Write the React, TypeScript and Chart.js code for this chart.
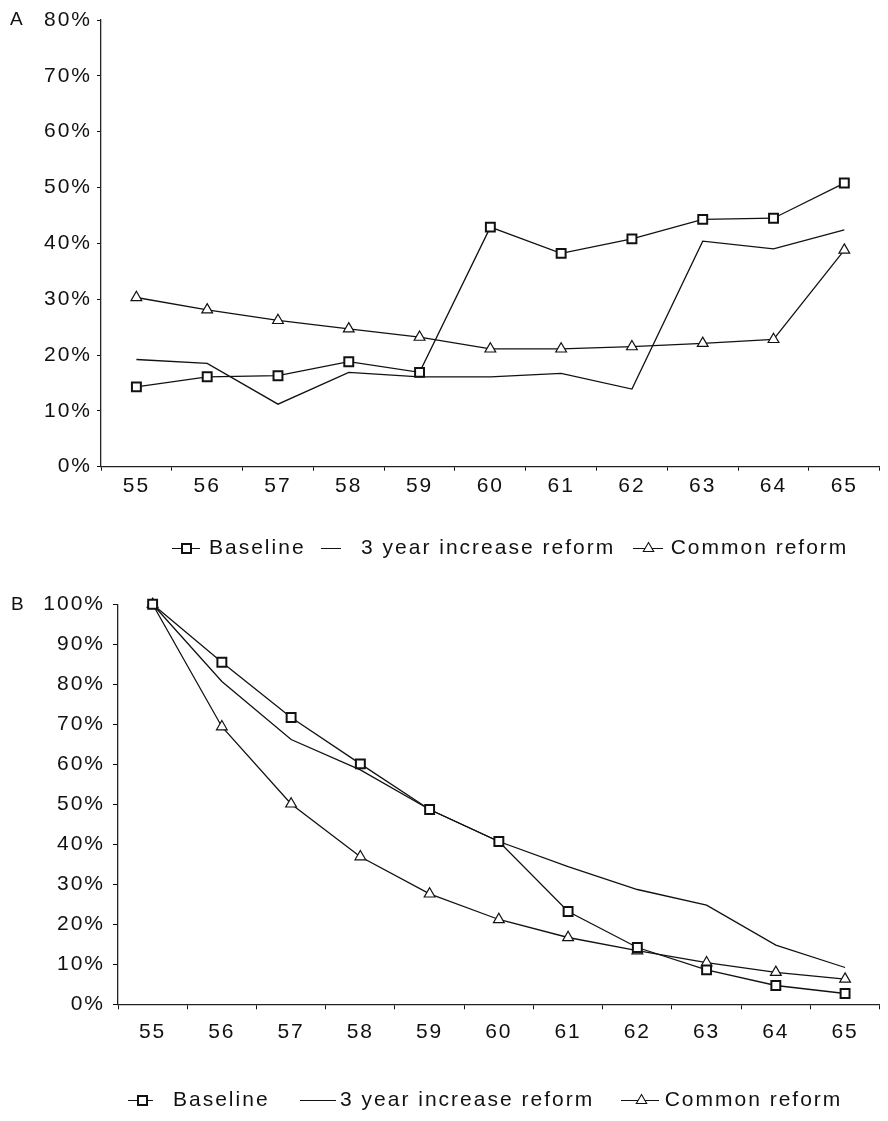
import React, { useEffect, useRef } from 'react';
import { Chart, registerables } from 'chart.js';

Chart.register(...registerables);

// ---------- data ----------
const ages = ['55', '56', '57', '58', '59', '60', '61', '62', '63', '64', '65'];
const seriesNames = ['Baseline', '3 year increase reform', 'Common reform'];

const baselineA = [14.3, 16.1, 16.3, 18.8, 16.9, 42.9, 38.2, 40.8, 44.3, 44.5, 50.8];
const threeYearA = [19.2, 18.5, 11.2, 16.9, 16.1, 16.1, 16.7, 13.9, 40.4, 39.0, 42.4];
const commonA = [30.3, 28.1, 26.2, 24.7, 23.2, 21.1, 21.1, 21.5, 22.1, 22.8, 38.8];

const baselineB = [100, 85.5, 71.7, 60.1, 48.7, 40.7, 23.2, 14.2, 8.6, 4.7, 2.7];
const threeYearB = [100, 80.7, 66.2, 58.6, 48.7, 40.7, 34.4, 28.7, 24.8, 14.8, 9.2];
const commonB = [100, 69.4, 50.1, 36.9, 27.6, 21.2, 16.7, 13.4, 10.4, 8.0, 6.3];

const yTicksA = { max: 80, step: 10 };
const yTicksB = { max: 100, step: 10 };

// ---------- style ----------
const FONT = "'Liberation Sans', Arial, Helvetica, sans-serif";
const FS = 21;
const INK = '#111';
const LS = '2px';

type Marker = { kind: 'square' | 'none' | 'triangle'; x0: number; x1: number; cx: number };

function legendImage(w: number, h: number, m: Marker): HTMLCanvasElement {
  const c = document.createElement('canvas');
  c.width = w;
  c.height = h;
  const g = c.getContext('2d')!;
  const cy = Math.floor(h / 2) + 0.5;
  g.strokeStyle = INK;
  g.lineWidth = 1;
  g.beginPath();
  g.moveTo(m.x0, cy);
  g.lineTo(m.x1, cy);
  g.stroke();
  if (m.kind === 'square') {
    const cx = Math.floor(m.cx);
    g.fillStyle = '#fff';
    g.lineWidth = 2;
    g.fillRect(cx - 4, cy - 4.5, 9, 9);
    g.strokeRect(cx - 4, cy - 4.5, 9, 9);
  } else if (m.kind === 'triangle') {
    const r = 6;
    g.fillStyle = '#fff';
    g.lineWidth = 1.1;
    g.beginPath();
    g.moveTo(m.cx, cy - r);
    g.lineTo(m.cx + r * 0.866, cy + r * 0.5);
    g.lineTo(m.cx - r * 0.866, cy + r * 0.5);
    g.closePath();
    g.fill();
    g.stroke();
  }
  return c;
}

type PanelProps = {
  top: number;
  height: number;
  letter: string;
  letterX: number;
  letterY: number;
  values: number[][];
  yMax: number;
  yStep: number;
  padTop: number;
  padRight: number;
  padBottom: number;
  yAxisWidth: number;
  xAxisHeight: number;
  yTickLen: number;
  yTickPad: number;
  xTickLen: number;
  xTickPad: number;
  legendPad: number;
  legendStart: number;
  imgW: number;
  boxW: number;
  markers: Marker[];
};

function Panel(p: PanelProps) {
  const ref = useRef<HTMLCanvasElement | null>(null);

  useEffect(() => {
    const canvas = ref.current!;
    const imgs = p.markers.map((m) => legendImage(p.imgW, 17, m));

    const styler = {
      id: 'styler',
      beforeUpdate(chart: any) {
        chart.ctx.letterSpacing = LS;
      },
      afterLayout(chart: any) {
        const lg = chart.legend;
        if (lg) {
          lg.left = p.legendStart - p.legendPad;
          lg.right = 5000;
        }
      },
      beforeDraw(chart: any) {
        chart.ctx.letterSpacing = LS;
        chart.ctx.imageSmoothingEnabled = false;
      },
      afterDraw(chart: any) {
        const ctx = chart.ctx;
        ctx.save();
        ctx.letterSpacing = '0px';
        ctx.font = `19px ${FONT}`;
        ctx.fillStyle = INK;
        ctx.textAlign = 'left';
        ctx.textBaseline = 'middle';
        ctx.fillText(p.letter, p.letterX, p.letterY);
        ctx.restore();
      },
    };

    const common = {
      borderColor: INK,
      borderWidth: 1.3,
      tension: 0,
      clip: false as any,
      pointBackgroundColor: '#fff',
      pointBorderColor: INK,
    };

    const chart = new Chart(canvas, {
      type: 'line',
      data: {
        labels: ages,
        datasets: [
          {
            ...common,
            label: seriesNames[0],
            data: p.values[0],
            pointStyle: 'rect',
            pointRadius: 6.3,
            pointBorderWidth: 2,
          },
          {
            ...common,
            label: seriesNames[1],
            data: p.values[1],
            pointRadius: 0,
          },
          {
            ...common,
            label: seriesNames[2],
            data: p.values[2],
            pointStyle: 'triangle',
            pointRadius: 6.2,
            pointBorderWidth: 1.2,
          },
        ],
      },
      options: {
        responsive: false,
        animation: false,
        devicePixelRatio: 1,
        layout: { padding: { top: p.padTop, right: p.padRight, bottom: p.padBottom, left: 0 } },
        plugins: {
          tooltip: { enabled: false },
          legend: {
            position: 'bottom',
            align: 'start',
            labels: {
              usePointStyle: true,
              pointStyleWidth: p.boxW,
              padding: p.legendPad,
              color: INK,
              font: { family: FONT, size: FS },
              generateLabels: (chart: any) =>
                chart.data.datasets.map((ds: any, i: number) => ({
                  text: ds.label,
                  pointStyle: imgs[i],
                  fillStyle: 'transparent',
                  strokeStyle: 'transparent',
                  lineWidth: 0,
                  hidden: false,
                  datasetIndex: i,
                  fontColor: INK,
                })),
            },
          },
        },
        scales: {
          x: {
            type: 'category',
            offset: true,
            afterFit: (s: any) => {
              s.height = p.xAxisHeight;
            },
            grid: {
              offset: true,
              drawOnChartArea: false,
              drawTicks: true,
              tickLength: p.xTickLen,
              color: INK,
              lineWidth: 1,
            },
            border: { display: true, color: '#222', width: 1.3 },
            ticks: {
              color: INK,
              padding: p.xTickPad,
              font: { family: FONT, size: FS },
              maxRotation: 0,
              autoSkip: false,
            },
          },
          y: {
            type: 'linear',
            min: 0,
            max: p.yMax,
            afterFit: (s: any) => {
              s.width = p.yAxisWidth;
            },
            grid: {
              drawOnChartArea: false,
              drawTicks: true,
              tickLength: p.yTickLen,
              color: INK,
              lineWidth: 1,
            },
            border: { display: true, color: '#222', width: 1.3 },
            ticks: {
              stepSize: p.yStep,
              color: INK,
              padding: p.yTickPad,
              font: { family: FONT, size: FS },
              callback: (v: any) => `${v}%`,
            },
          },
        },
      },
      plugins: [styler],
    });

    return () => chart.destroy();
  }, []);

  return (
    <div style={{ position: 'absolute', left: 0, top: p.top, width: 888, height: p.height }}>
      <canvas ref={ref} width={888} height={p.height} style={{ display: 'block', width: 888, height: p.height }} />
    </div>
  );
}

export default function App() {
  return (
    <div
      style={{
        position: 'absolute',
        left: 0,
        top: 0,
        width: 888,
        height: 1121,
        overflow: 'hidden',
        background: '#fff',
      }}
    >
      <Panel
        top={0}
        height={575}
        letter="A"
        letterX={10}
        letterY={20}
        values={[baselineA, threeYearA, commonA]}
        yMax={yTicksA.max}
        yStep={yTicksA.step}
        padTop={20}
        padRight={0}
        padBottom={6.5}
        yAxisWidth={101}
        xAxisHeight={55.8}
        yTickLen={4}
        yTickPad={5}
        xTickLen={4}
        xTickPad={3}
        legendPad={15}
        legendStart={168.5}
        imgW={50}
        boxW={30}
        markers={[
          { kind: 'square', x0: 13, x1: 41, cx: 27 },
          { kind: 'none', x0: 10, x1: 30, cx: 20 },
          { kind: 'triangle', x0: 13, x1: 43, cx: 28.5 },
        ]}
      />
      <Panel
        top={575}
        height={546}
        letter="B"
        letterX={11}
        letterY={29.5}
        values={[baselineB, threeYearB, commonB]}
        yMax={yTicksB.max}
        yStep={yTicksB.step}
        padTop={29.3}
        padRight={8}
        padBottom={0}
        yAxisWidth={118}
        xAxisHeight={65.7}
        yTickLen={5}
        yTickPad={8}
        xTickLen={5}
        xTickPad={10.6}
        legendPad={20}
        legendStart={122.5}
        imgW={60}
        boxW={40}
        markers={[
          { kind: 'square', x0: 15, x1: 40, cx: 29 },
          { kind: 'none', x0: 20, x1: 56, cx: 38 },
          { kind: 'triangle', x0: 17, x1: 55, cx: 37.5 },
        ]}
      />
    </div>
  );
}
